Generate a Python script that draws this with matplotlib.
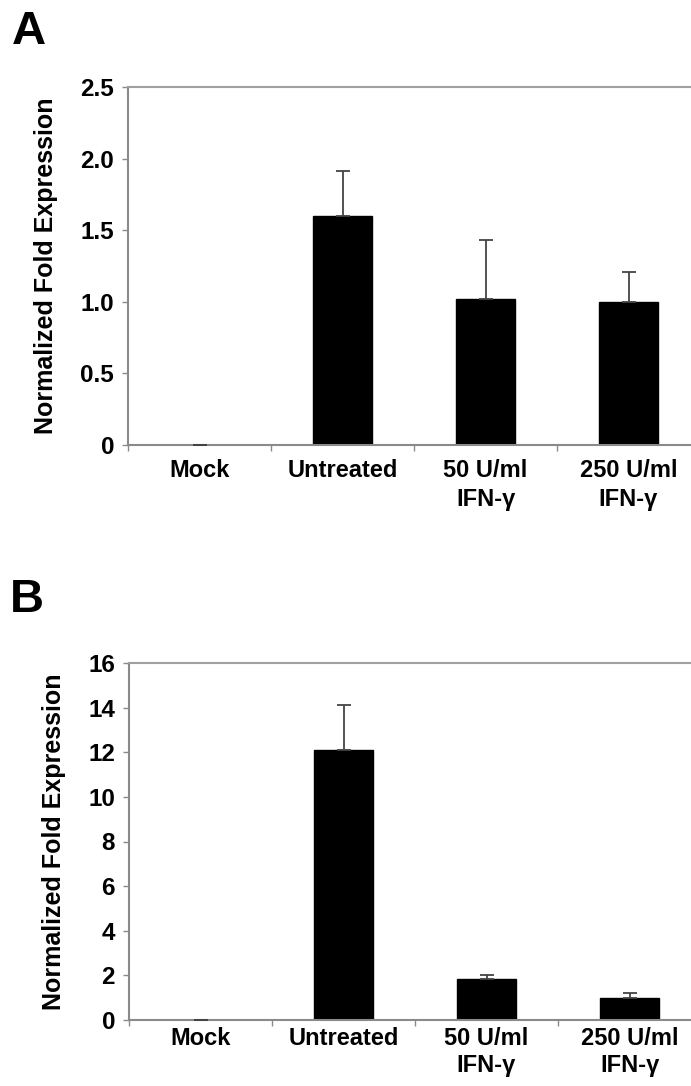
import numpy as np
import matplotlib
matplotlib.use("Agg")
import matplotlib.pyplot as plt
from matplotlib.ticker import FixedLocator, FixedFormatter

plt.rcParams['font.family'] = ['Liberation Sans', 'DejaVu Sans']
plt.rcParams['font.weight'] = 'bold'

# data
categories = ["Mock", "Untreated", "50 U/ml\nIFN-\u03b3", "250 U/ml\nIFN-\u03b3"]

values_a = [0.0, 1.60, 1.02, 1.00]
errors_a = [0.0, 0.31, 0.41, 0.21]
yticks_a = [0, 0.5, 1.0, 1.5, 2.0, 2.5]
ytick_labels_a = ["0", "0.5", "1.0", "1.5", "2.0", "2.5"]

values_b = [0.0, 12.1, 1.83, 1.00]
errors_b = [0.0, 2.0, 0.19, 0.19]
yticks_b = [0, 2, 4, 6, 8, 10, 12, 14, 16]
ytick_labels_b = ["0", "2", "4", "6", "8", "10", "12", "14", "16"]

axis_grey = "#8a8a8a"


def draw_panel(ax, values, errors, yticks, ytick_labels, label_pad, line_spacing):
    x = np.arange(len(categories)) + 0.5
    ax.bar(x, values, width=0.41, color="black", edgecolor="black", zorder=2)
    ax.errorbar(x, values, yerr=[np.zeros(len(errors)), errors], fmt="none",
                ecolor="#444444", elinewidth=1.3, capsize=5, capthick=1.3, zorder=3)
    ax.set_xlim(0, len(categories))
    ax.set_ylim(yticks[0], yticks[-1])

    # ticks between categories, labels at the centres
    ax.xaxis.set_major_locator(FixedLocator(np.arange(len(categories) + 1)))
    ax.xaxis.set_major_formatter(FixedFormatter([""] * (len(categories) + 1)))
    ax.xaxis.set_minor_locator(FixedLocator(x))
    ax.xaxis.set_minor_formatter(FixedFormatter(categories))
    ax.tick_params(axis="x", which="major", direction="out", length=4, width=1, color=axis_grey)
    ax.tick_params(axis="x", which="minor", length=0, pad=label_pad, labelsize=17)
    for lab in ax.xaxis.get_minorticklabels():
        lab.set_fontweight("bold")
        lab.set_linespacing(line_spacing)
        lab.set_verticalalignment("top")

    ax.yaxis.set_major_locator(FixedLocator(yticks))
    ax.yaxis.set_major_formatter(FixedFormatter(ytick_labels))
    ax.tick_params(axis="y", direction="out", length=4, width=1, color=axis_grey,
                   labelsize=17.5, pad=6)
    ax.set_ylabel("Normalized Fold Expression", fontsize=18, fontweight="bold", labelpad=16)

    for side in ["left", "bottom", "top"]:
        ax.spines[side].set_color(axis_grey)
        ax.spines[side].set_linewidth(1.5)
    ax.spines["top"].set_color("#a0a0a0")
    ax.spines["right"].set_visible(False)


fig = plt.figure(figsize=(6.91, 10.86), dpi=100)

ax_a = fig.add_axes([128 / 691, 1 - 445 / 1086, 572 / 691, 358 / 1086])
draw_panel(ax_a, values_a, errors_a, yticks_a, ytick_labels_a, label_pad=10, line_spacing=1.35)

ax_b = fig.add_axes([129 / 691, 1 - 1020 / 1086, 572 / 691, 357 / 1086])
draw_panel(ax_b, values_b, errors_b, yticks_b, ytick_labels_b, label_pad=5, line_spacing=1.2)

fig.text(12 / 691, 1 - 10 / 1086, "A", fontsize=34, fontweight="bold", va="top", ha="left")
fig.text(10 / 691, 1 - 578 / 1086, "B", fontsize=34, fontweight="bold", va="top", ha="left")

fig.savefig("out.png", dpi=100)
